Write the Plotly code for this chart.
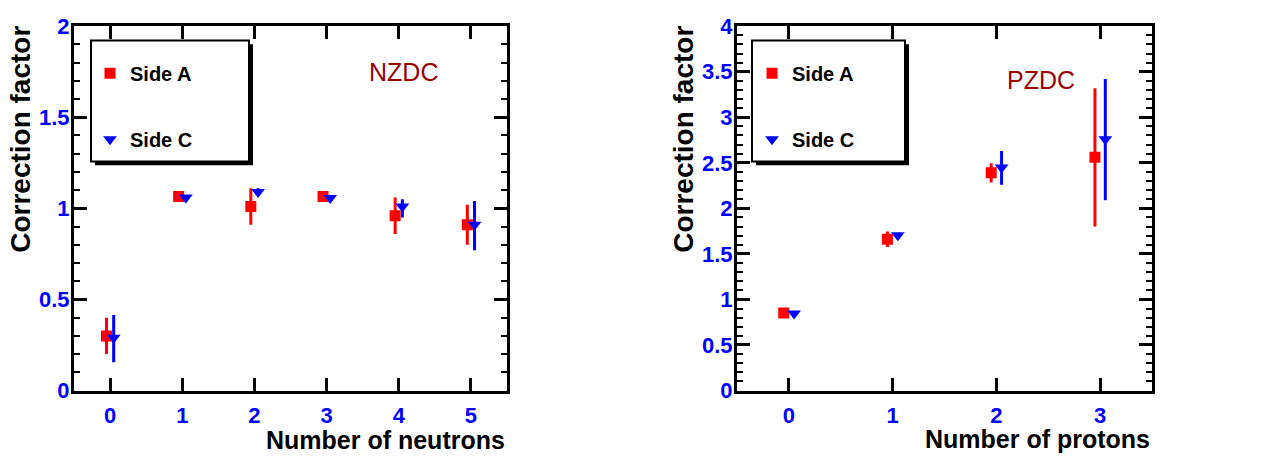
import plotly.graph_objects as go

# ---- data ----
neutrons = [0, 1, 2, 3, 4, 5]
nzdc_a = [0.30, 1.065, 1.01, 1.065, 0.96, 0.91]
nzdc_a_up = [0.10, 0.02, 0.10, 0.01, 0.10, 0.11]
nzdc_a_dn = [0.10, 0.02, 0.10, 0.01, 0.10, 0.11]
nzdc_c = [0.29, 1.06, 1.09, 1.057, 1.01, 0.91]
nzdc_c_up = [0.125, 0.0, 0.02, 0.0, 0.04, 0.13]
nzdc_c_dn = [0.135, 0.0, 0.02, 0.0, 0.06, 0.14]

protons = [0, 1, 2, 3]
pzdc_a = [0.85, 1.66, 2.39, 2.56]
pzdc_a_up = [0.0, 0.085, 0.105, 0.76]
pzdc_a_dn = [0.0, 0.085, 0.105, 0.76]
pzdc_c = [0.845, 1.705, 2.45, 2.76]
pzdc_c_up = [0.0, 0.0, 0.18, 0.66]
pzdc_c_dn = [0.0, 0.0, 0.19, 0.67]

W, H = 1264, 466
OFFSET = 0.05
RED = "#ff0000"
BLUE = "#0000ff"
FONT = "Liberation Sans"


def px(x):
    return x / W


def py(y):
    return 1 - y / H


fig = go.Figure()


def add_points(x, y, up, dn, name, color, symbol, xaxis, yaxis, legend, group):
    fig.add_trace(go.Scatter(
        x=x, y=y, mode="markers", name=name,
        marker=dict(color=color, symbol=symbol, size=11 if symbol == "square" else 12,
                    line=dict(width=0)),
        error_y=dict(type="data", array=up, arrayminus=dn, color=color,
                     thickness=3, width=0, visible=True),
        xaxis=xaxis, yaxis=yaxis, legend=legend, legendgroup=group,
    ))


add_points([n - OFFSET for n in neutrons], nzdc_a, nzdc_a_up, nzdc_a_dn,
           "Side A", RED, "square", "x", "y", "legend", "a1")
add_points([n + OFFSET for n in neutrons], nzdc_c, nzdc_c_up, nzdc_c_dn,
           "Side C", BLUE, "triangle-down", "x", "y", "legend", "c1")
add_points([n - OFFSET for n in protons], pzdc_a, pzdc_a_up, pzdc_a_dn,
           "Side A", RED, "square", "x2", "y2", "legend2", "a2")
add_points([n + OFFSET for n in protons], pzdc_c, pzdc_c_up, pzdc_c_dn,
           "Side C", BLUE, "triangle-down", "x2", "y2", "legend2", "c2")

tickfont = dict(family=FONT, size=22, color=BLUE, weight="bold")
frame = dict(showline=True, linewidth=3, linecolor="black", mirror="allticks",
             ticks="inside", ticklen=13, tickwidth=2.5, tickcolor="black",
             showgrid=False, zeroline=False, tickfont=tickfont)
minor = dict(dtick=0.1, ticks="inside", ticklen=6, tickwidth=2, tickcolor="black")
legend_font = dict(family=FONT, size=20, color="black", weight="bold")

fig.update_layout(
    width=W, height=H,
    margin=dict(l=0, r=0, t=0, b=0),
    paper_bgcolor="white", plot_bgcolor="white",
    xaxis=dict(domain=[px(74), px(507)], range=[-0.5, 5.5], dtick=1, anchor="y",
               ticklabelstandoff=3, **frame),
    yaxis=dict(domain=[py(400), py(15)], range=[0, 2], dtick=0.5, anchor="x",
               minor=minor, ticklabelstandoff=-3, **frame),
    xaxis2=dict(domain=[px(737), px(1152)], range=[-0.5, 3.5], dtick=1, anchor="y2",
                ticklabelstandoff=3, **frame),
    yaxis2=dict(domain=[py(400), py(15)], range=[0, 4], dtick=0.5, anchor="x2",
                minor=minor, ticklabelstandoff=-3, **frame),
    legend=dict(x=px(90), y=py(44), xanchor="left", yanchor="top",
                bgcolor="rgba(0,0,0,0)", borderwidth=0, tracegroupgap=37,
                font=legend_font),
    legend2=dict(x=px(752), y=py(44), xanchor="left", yanchor="top",
                 bgcolor="rgba(0,0,0,0)", borderwidth=0, tracegroupgap=37,
                 font=legend_font),
)

# legend boxes with ROOT-like shadow
for x0, x1 in [(91, 249), (752, 905)]:
    fig.add_shape(type="rect", xref="paper", yref="paper",
                  x0=px(x0 + 4), x1=px(x1 + 4), y0=py(158 + 4), y1=py(30 + 4),
                  fillcolor="black", line=dict(width=0), layer="above")
    fig.add_shape(type="rect", xref="paper", yref="paper",
                  x0=px(x0), x1=px(x1), y0=py(158), y1=py(30),
                  fillcolor="white", line=dict(color="black", width=2), layer="above")

# panel labels
fig.add_annotation(text="NZDC", xref="paper", yref="paper", x=px(403), y=py(63),
                   xanchor="center", yanchor="middle",
                   showarrow=False, font=dict(family=FONT, size=25, color="#990000"))
fig.add_annotation(text="PZDC", xref="paper", yref="paper", x=px(1041), y=py(72),
                   xanchor="center", yanchor="middle",
                   showarrow=False, font=dict(family=FONT, size=25, color="#990000"))

# axis titles (ROOT style: right / top aligned)
title_font = dict(family=FONT, size=25, color="black", weight="bold")
ytitle_font = dict(family=FONT, size=28, color="black", weight="bold")
fig.add_annotation(text="Number of neutrons", xref="paper", yref="paper",
                   x=px(507), y=py(452), xanchor="right", yanchor="middle",
                   showarrow=False, font=title_font)
fig.add_annotation(text="Number of protons", xref="paper", yref="paper",
                   x=px(1152), y=py(451), xanchor="right", yanchor="middle",
                   showarrow=False, font=title_font)
fig.add_annotation(text="Correction factor", xref="paper", yref="paper",
                   x=px(21), y=py(13), xanchor="center", yanchor="top", textangle=-90,
                   showarrow=False, font=ytitle_font)
fig.add_annotation(text="Correction factor", xref="paper", yref="paper",
                   x=px(684), y=py(13), xanchor="center", yanchor="top", textangle=-90,
                   showarrow=False, font=ytitle_font)

# drop the default 8px body margin so the figure fills the window exactly
fig.write_html("out.html", config={"displayModeBar": False},
               post_script="document.body.style.margin = '0';")
